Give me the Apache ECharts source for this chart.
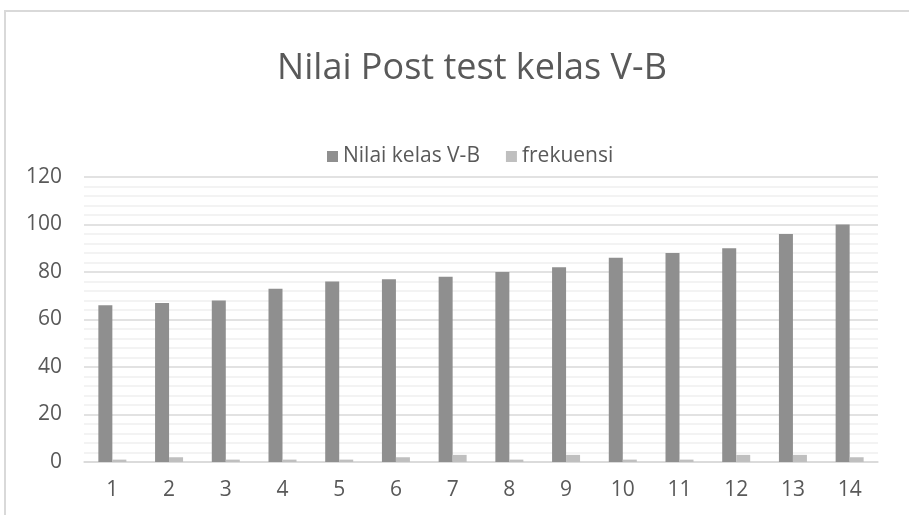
<!DOCTYPE html>
<html><head><meta charset="utf-8">
<script src="https://cdn.jsdelivr.net/npm/echarts@6/dist/echarts.min.js"></script>
<style>html,body{margin:0;padding:0;background:#fff;overflow:hidden}#c{width:909px;height:515px}
#frame{position:absolute;left:4px;top:10px;width:920px;height:520px;border-left:2px solid #d9d9d9;border-top:2px solid #d9d9d9;pointer-events:none;z-index:10}</style>
</head><body>
<div id="c"></div><div id="frame"></div>
<script>
const categories = ['1','2','3','4','5','6','7','8','9','10','11','12','13','14'];
const nilai = [66,67,68,73,76,77,78,80,82,86,88,90,96,100];
const frekuensi = [1,2,1,1,1,2,3,1,3,1,1,3,3,2];
const yTicks = [0,20,40,60,80,100,120];
const font = '"Open Sans", "Liberation Sans", sans-serif';
const chart = echarts.init(document.getElementById('c'));
chart.setOption({
  animation:false,
  title:{text:'Nilai Post test kelas V-B',left:467,textAlign:'center',top:46,
    textStyle:{fontFamily:font,fontSize:36,fontWeight:'normal',color:'#595959'}},
  legend:{top:141,left:322,itemWidth:11,itemHeight:11,itemGap:26,icon:'rect',
    textStyle:{fontFamily:font,fontSize:21,color:'#595959'},
    data:['Nilai kelas V-B','frekuensi']},
  grid:{left:84,right:31,top:177,bottom:53},
  xAxis:{type:'category',data:categories,
    axisLine:{lineStyle:{color:'#d9d9d9',width:1.5}},axisTick:{show:false},
    axisLabel:{fontFamily:font,fontSize:21,color:'#595959',margin:18}},
  yAxis:{type:'value',min:yTicks[0],max:yTicks[yTicks.length-1],interval:20,
    axisLine:{show:false},axisTick:{show:false},
    axisLabel:{fontFamily:font,fontSize:21,color:'#595959',margin:22},
    splitLine:{lineStyle:{color:'#d9d9d9',width:1.5}},
    minorTick:{show:false,splitNumber:5},
    minorSplitLine:{show:true,lineStyle:{color:'#f0f0f0',width:1.5}}},
  series:[
    {name:'Nilai kelas V-B',type:'bar',data:nilai,barWidth:14,barGap:'0%',
      itemStyle:{color:'#8f8f8f'}},
    {name:'frekuensi',type:'bar',data:frekuensi,barWidth:14,barGap:'0%',
      itemStyle:{color:'#bfbfbf'}}
  ]
});
</script>
</body></html>
